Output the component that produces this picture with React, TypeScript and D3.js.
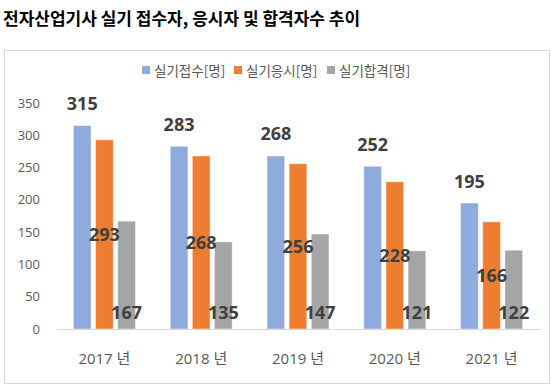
import React from "react";
import * as d3 from "d3";

const years = ["2017 년", "2018 년", "2019 년", "2020 년", "2021 년"];
const seriesNames = ["실기접수[명]", "실기응시[명]", "실기합격[명]"];
const applied = [315, 283, 268, 252, 195];
const attended = [293, 268, 256, 228, 166];
const passed = [167, 135, 147, 121, 122];
const yTicks = [0, 50, 100, 150, 200, 250, 300, 350];
const colors = ["#8FAADC", "#ED7D31", "#A5A5A5"];
const title = "전자산업기사 실기 접수자, 응시자 및 합격자수 추이";

const W = 558;
const H = 392;
const FONT = "'Noto Sans CJK KR', 'Noto Sans', sans-serif";
const NUMFONT = "'Open Sans', 'Noto Sans CJK KR', sans-serif";

export default function App() {
  const values = [applied, attended, passed];
  const y = d3.scaleLinear().domain([0, 350]).range([329, 103]);
  const x0 = d3.scaleBand<string>().domain(years).range([57, 541]).padding(0);
  const groupW = 62;
  const x1 = d3
    .scaleBand<string>()
    .domain(seriesNames)
    .range([0, groupW])
    .paddingInner(0.2);
  const bw = x1.bandwidth();
  const gx = (yr: string) => (x0(yr) as number) + x0.bandwidth() / 2 - groupW / 2 - 1;

  return (
    <svg
      width={W}
      height={H}
      style={{ position: "absolute", left: 0, top: 0, background: "#fff" }}
      fontFamily={FONT}
    >
      <rect x={0} y={0} width={W} height={H} fill="#fff" />
      <text x={3} y={25} fontSize={17} fontWeight="bold" fill="#000">
        {title}
      </text>
      <rect x={4.5} y={50.5} width={545} height={333} fill="#fff" stroke="#D9D9D9" />

      {/* legend */}
      {(() => {
        const xs = [142, 234, 327];
        return seriesNames.map((s, i) => (
          <g key={s}>
            <rect x={xs[i]} y={66} width={8} height={8} fill={colors[i]} />
            <text x={xs[i] + 12} y={76} fontSize={13.5} fill="#595959">
              {s}
            </text>
          </g>
        ));
      })()}

      {/* y axis labels */}
      {yTicks.map((t) => (
        <text
          key={t}
          x={40}
          y={y(t)}
          dy="0.35em"
          textAnchor="end"
          fontSize={13}
          fontFamily={NUMFONT}
          fill="#595959"
        >
          {t}
        </text>
      ))}

      {/* bars */}
      {years.map((yr, gi) =>
        seriesNames.map((s, si) => {
          const v = values[si][gi];
          const bx = gx(yr) + (x1(s) as number);
          return (
            <rect
              key={yr + s}
              x={bx}
              y={y(v)}
              width={bw}
              height={y(0) - y(v)}
              fill={colors[si]}
              stroke="#ffffff"
              strokeOpacity={0.45}
              strokeWidth={1}
            />
          );
        })
      )}

      {/* axis line */}
      <line x1={57} x2={541} y1={329.5} y2={329.5} stroke="#D9D9D9" strokeWidth={1} />

      {/* x labels */}
      {years.map((yr) => (
        <text
          key={yr}
          x={gx(yr) + groupW / 2}
          y={359}
          dy="0.35em"
          textAnchor="middle"
          fontSize={15}
          fontFamily={NUMFONT}
          fill="#595959"
        >
          {yr}
        </text>
      ))}

      {/* data labels */}
      {years.map((yr, gi) =>
        seriesNames.map((s, si) => {
          const v = values[si][gi];
          const cx = gx(yr) + (x1(s) as number) + bw / 2;
          let cy: number;
          if (si === 0) cy = y(v) - 22;
          else if (si === 1) cy = (y(v) + y(0)) / 2;
          else cy = y(0) - 16;
          return (
            <text
              key={"l" + yr + s}
              x={cx}
              y={cy}
              dy="0.36em"
              textAnchor="middle"
              fontSize={18}
              fontWeight="bold"
              fontFamily={NUMFONT}
              fill="#404040"
            >
              {v}
            </text>
          );
        })
      )}
    </svg>
  );
}
